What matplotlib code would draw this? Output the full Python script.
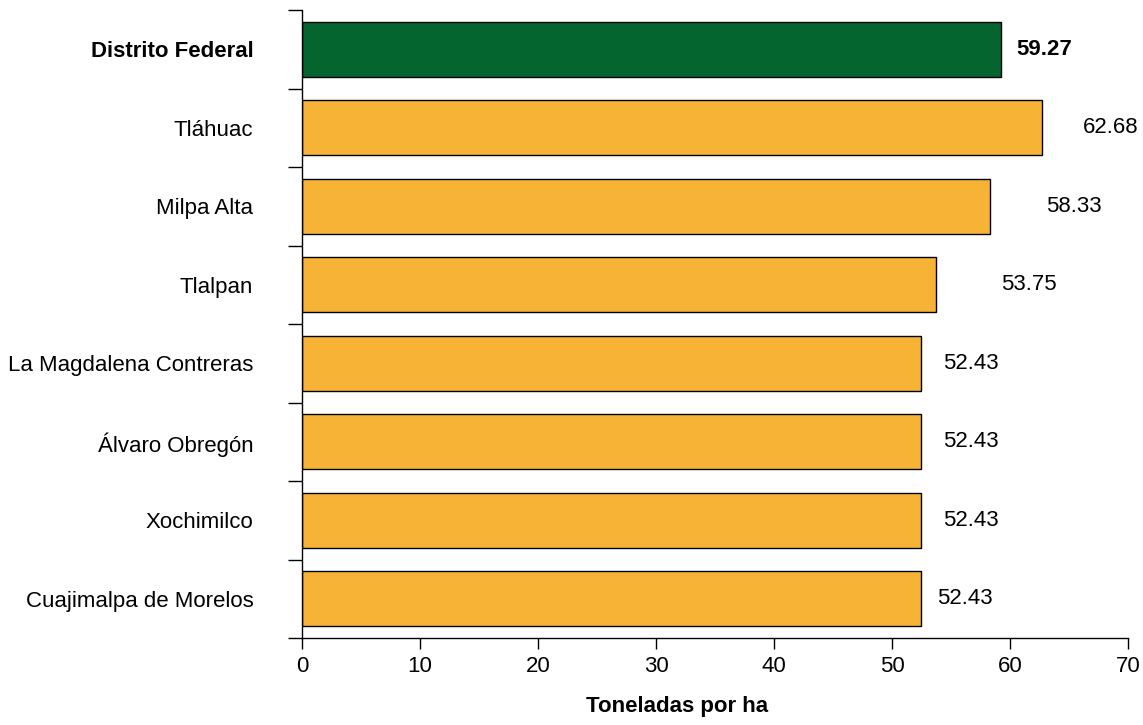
import numpy as np
import matplotlib.pyplot as plt

plt.rcParams['font.family'] = ['Liberation Sans', 'DejaVu Sans']

categories = ["Distrito Federal", "Tláhuac", "Milpa Alta", "Tlalpan",
              "La Magdalena Contreras", "Álvaro Obregón", "Xochimilco",
              "Cuajimalpa de Morelos"]
values = [59.27, 62.68, 58.33, 53.75, 52.43, 52.43, 52.43, 52.43]
xticks = [0, 10, 20, 30, 40, 50, 60, 70]

# label gap from bar end, in points (as in the source chart)
label_gap = [11, 30, 40, 47, 16, 16, 16, 12]

green = "#04652F"
orange = "#F6B335"
fs = 16

fig = plt.figure(figsize=(11.43, 7.25), dpi=100)
ax = fig.add_axes([0.2642, 0.12, 0.7227, 0.8662])

y = np.arange(len(categories))
colors = [green] + [orange] * (len(categories) - 1)
bars = ax.barh(y, values, height=0.7, color=colors, edgecolor="black", linewidth=1.0)

for i, (b, v) in enumerate(zip(bars, values)):
    ax.annotate(f"{v:.2f}", xy=(v, b.get_y() + b.get_height() / 2),
                xytext=(label_gap[i], 0), textcoords="offset points",
                ha="left", va="center", fontsize=fs,
                fontweight="bold" if i == 0 else "normal")

ax.set_ylim(len(categories) - 0.5, -0.5)
ax.set_xlim(0, 70)
ax.set_xticks(xticks)
ax.tick_params(axis="x", labelsize=fs, length=8, width=1, pad=5)

ax.set_yticks(y)
ax.set_yticklabels(categories, fontsize=fs)
for i, lab in enumerate(ax.get_yticklabels()):
    if i == 0:
        lab.set_fontweight("bold")
ax.tick_params(axis="y", which="major", length=0, pad=35)
ax.set_yticks(np.arange(-0.5, len(categories)), minor=True)
ax.tick_params(axis="y", which="minor", length=10, width=1)

for s in ["top", "right"]:
    ax.spines[s].set_visible(False)
for s in ["left", "bottom"]:
    ax.spines[s].set_linewidth(1)

ax.set_xlabel("Toneladas por ha", fontsize=fs, fontweight="bold")
ax.xaxis.set_label_coords(0.454, -0.093)

fig.savefig("out.png", dpi=100)
